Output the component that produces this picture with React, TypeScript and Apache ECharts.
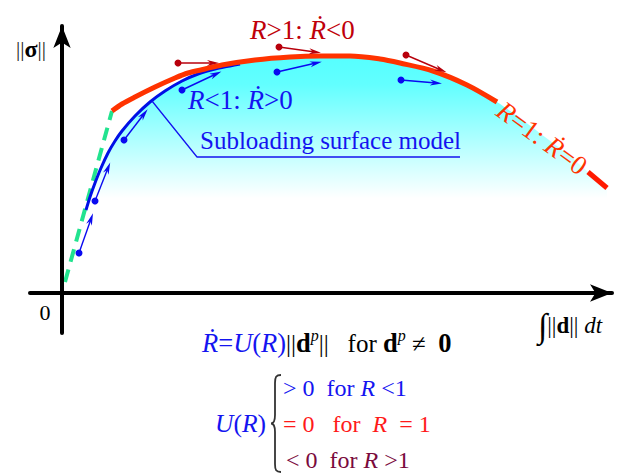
import React, { useEffect, useRef } from "react";
import * as echarts from "echarts";

// Curves (data units: 1 unit = 1 px, origin at the axes crossing)
const blueCurve: number[][] = [
  [24, 83], [28, 96], [33, 110], [39, 125], [46, 140], [53, 152], [60, 162],
  [73, 177], [88, 191], [103, 202], [120, 212], [136, 219], [153, 224], [168, 227], [178, 229],
];
const redCurveMain: number[][] = [
  [50, 182], [60, 189], [73, 196], [93, 206], [113, 215], [126, 220], [143, 224],
  [160, 228], [193, 233], [228, 236], [258, 237], [288, 237], [318, 234], [338, 230],
  [371, 222], [405, 208], [435, 191],
];
const redCurveUnderLabel: number[][] = [[458, 175], [483, 156], [508, 137]];
const redCurveTail: number[][] = [[526, 121], [545, 105]];
const elasticLine: number[][] = [[3, 11], [50, 182]];
const leaderLine: number[][] = [[90, 192], [135, 136], [398, 136]];

// Rate arrows: [x0, y0, x1, y1]
const blueArrows: number[][] = [
  [17, 40, 29, 74], [33, 92, 46, 125], [62, 153, 82, 179],
  [120, 203, 154, 219], [215, 221, 254, 230], [339, 213, 374, 210],
];
const redArrows: number[][] = [
  [116, 230, 151, 230], [217, 246, 253, 241], [344, 238, 379, 223],
];

const FONT = '"Liberation Serif", "Times New Roman", "DejaVu Serif", serif';
const BLUE = "#1414f0";
const DARKRED = "#c0000a";
const ORANGE = "#ff3300";
const ARROW_HEAD = "path://M5,0 L10,20 L5,14 L0,20 Z";

function arrowSeries(a: number[], color: string) {
  const [x0, y0, x1, y1] = a;
  const ang = (Math.atan2(y1 - y0, x1 - x0) * 180) / Math.PI - 90;
  return {
    type: "line",
    silent: true,
    z: 6,
    lineStyle: { color, width: 1.4 },
    itemStyle: { color },
    data: [
      { value: [x0, y0], symbol: "circle", symbolSize: 7 },
      { value: [x1, y1], symbol: ARROW_HEAD, symbolSize: [6, 12], symbolRotate: ang },
    ],
  };
}

let registered = false;
function registerBrace() {
  if (registered) return;
  registered = true;
  const d =
    "M10,0 C5,0 4,2 4,8 L4,40 C4,46 3,48.5 0,48.5 C3,48.5 4,51 4,57 L4,89 C4,95 5,97 10,97";
  echarts.graphic.registerShape("brace", echarts.graphic.extendPath(d, {}) as any);
}

export default function App() {
  const ref = useRef<HTMLDivElement>(null);
  useEffect(() => {
    document.body.style.margin = "0";
    registerBrace();
    const chart = echarts.init(ref.current!, null, { renderer: "svg" });
    const envelope = [
      ...blueCurve.filter((p) => p[0] <= 153),
      ...redCurveMain.filter((p) => p[0] >= 160),
      ...redCurveUnderLabel,
      ...redCurveTail,
    ];
    const t = (text: string, x: number, y: number, rich: any, extra: any = {}) => ({
      type: "text",
      x,
      y,
      z: 100,
      ...extra,
      style: { text, rich, align: extra.align || "left", verticalAlign: "middle", font: `22px ${FONT}` },
    });
    const R = (fill: string, size = 24) => ({
      i: { fontFamily: FONT, fontSize: size, fontStyle: "italic", fill },
      n: { fontFamily: FONT, fontSize: size, fill },
    });
    const axisCommon = {
      z: 10,
      axisTick: { show: false }, axisLabel: { show: false }, splitLine: { show: false },
    };
    chart.setOption({
      animation: false,
      grid: { left: 30, right: 14, top: 26, bottom: 140, containLabel: false },
      xAxis: {
        type: "value", min: -32, max: 550, ...axisCommon,
        axisLine: { show: true, onZero: true, symbol: ["none", "arrow"], symbolSize: [13, 22], lineStyle: { color: "#000", width: 4 } },
      },
      yAxis: {
        type: "value", min: -40, max: 267, ...axisCommon,
        axisLine: { show: true, onZero: true, symbol: ["none", "arrow"], symbolSize: [13, 22], lineStyle: { color: "#000", width: 4 } },
      },
      series: [
        {
          type: "line", data: envelope, symbol: "none", silent: true, z: 1, smooth: 0.2,
          lineStyle: { width: 0 },
          areaStyle: {
            opacity: 1,
            color: new echarts.graphic.LinearGradient(0, 0, 0, 1, [
              { offset: 0, color: "#55ffff" },
              { offset: 0.12, color: "#62ffff" },
              { offset: 0.6, color: "#ffffff" },
              { offset: 1, color: "#ffffff" },
            ]),
          },
        },
        { type: "line", data: elasticLine, symbol: "none", silent: true, z: 3, lineStyle: { color: "#22e38f", width: 4, type: [13, 8] } },
        { type: "line", data: blueCurve, symbol: "none", silent: true, z: 4, smooth: 0.3, lineStyle: { color: "#0010e6", width: 3 } },
        { type: "line", data: redCurveMain, symbol: "none", silent: true, z: 5, smooth: 0.3, lineStyle: { color: ORANGE, width: 5 } },
        { type: "line", data: redCurveTail, symbol: "none", silent: true, z: 5, lineStyle: { color: "#ff1a00", width: 5 } },
        { type: "line", data: leaderLine, symbol: "none", silent: true, z: 5, lineStyle: { color: BLUE, width: 1.3 } },
        ...blueArrows.map((a) => arrowSeries(a, "#0a0af0")),
        ...redArrows.map((a) => arrowSeries(a, "#b8000c")),
      ],
      graphic: [
        t("{n|0}", 45, 312, R("#000", 22), { align: "center" }),
        t("{n|||}{b|σ}{n|||}", 31, 49, { n: { fontFamily: FONT, fontSize: 21, fill: "#222" }, b: { fontFamily: FONT, fontSize: 24, fontWeight: "bold", fill: "#000" } }, { align: "center" }),
        t("{s|∫}{n|||}{b|d}{n|||}{n| }{i|dt}", 570, 325, {
          s: { fontFamily: FONT, fontSize: 34, fill: "#000" },
          n: { fontFamily: FONT, fontSize: 23, fill: "#000" },
          b: { fontFamily: FONT, fontSize: 23, fontWeight: "bold", fill: "#000" },
          i: { fontFamily: FONT, fontSize: 23, fontStyle: "italic", fill: "#000" },
        }, { align: "center" }),
        t("{i|R}{n|>1: }{i|Ṙ}{n|<0}", 250, 30, R(DARKRED, 27)),
        t("{i|R}{n|<1: }{i|Ṙ}{n|>0}", 188, 100, R(BLUE, 27)),
        t("{n|Subloading surface model}", 200, 140, R(BLUE, 25)),
        t("{i|R}{n|=1: }{i|Ṙ}{n|=0}", 542, 138, R(ORANGE, 27), { align: "center", rotation: -0.63 }),
        t("{i|Ṙ}{n|=}{i|U}{n|(}{i|R}{n|)}{k|||}{b|d}{sup|p}{k|||   for }{b|d}{sup|p}{k| ≠  }{b|0}", 202, 343, {
          i: { fontFamily: FONT, fontSize: 26.5, fontStyle: "italic", fill: BLUE, lineHeight: 32 },
          n: { fontFamily: FONT, fontSize: 26.5, fill: BLUE, lineHeight: 32 },
          k: { fontFamily: FONT, fontSize: 25, fill: "#000", lineHeight: 32 },
          b: { fontFamily: FONT, fontSize: 26.5, fontWeight: "bold", fill: "#000", lineHeight: 32 },
          sup: { fontFamily: FONT, fontSize: 16, fontStyle: "italic", fill: "#000", verticalAlign: "top", lineHeight: 16 },
        }),
        t("{i|U}{n|(}{i|R}{n|)}", 215, 423, R(BLUE, 25.5)),
        { type: "brace", x: 271, y: 375, z: 100, style: { stroke: "#333", fill: "none", lineWidth: 1.8 } },
        t("{n|> 0  for }{i|R}{n| <1}", 283, 388, R(BLUE, 24)),
        t("{n|= 0   for  }{i|R}{n|  = 1}", 283, 424, R("#ff1a1a", 24)),
        t("{n|< 0  for }{i|R}{n| >1}", 286, 460, R("#7a0a3c", 24)),
      ],
    });
    return () => chart.dispose();
  }, []);
  return <div ref={ref} style={{ width: 626, height: 473 }} />;
}
